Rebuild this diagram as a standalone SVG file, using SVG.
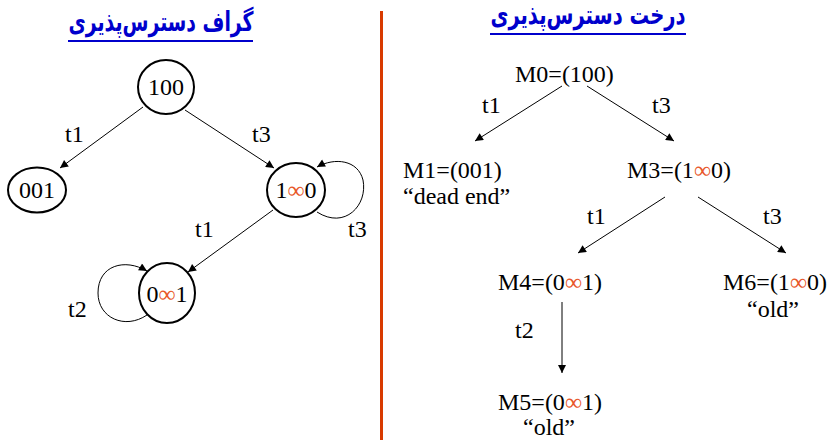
<svg xmlns="http://www.w3.org/2000/svg" width="828" height="440" viewBox="0 0 828 440" font-family="Liberation Serif, Times New Roman, serif">
<defs>
<marker id="ah" viewBox="0 0 10 10" refX="10" refY="5" markerWidth="10" markerHeight="8" markerUnits="userSpaceOnUse" orient="auto">
<path d="M0,0 L10,5 L0,10 z" fill="#000"/>
</marker>
<style>
.t{font-size:24px;fill:#000}
.c{text-anchor:middle}
.inf{fill:#E8582A}
.node{fill:#fff;stroke:#000;stroke-width:2}
.e{fill:none;stroke:#000;stroke-width:1;marker-end:url(#ah)}
.ttl{font-size:27px;font-weight:bold;fill:#0000CC;text-anchor:middle}
.ul{stroke:#0000CC;stroke-width:2}
</style>
</defs>
<rect width="828" height="440" fill="#fff"/>

<g id="titles" font-family="DejaVu Sans, sans-serif">
<text class="ttl" x="161" y="31" direction="rtl" textLength="185" lengthAdjust="spacingAndGlyphs">گراف دسترس‌پذیری</text>
<line class="ul" x1="68" y1="41" x2="253" y2="41"/>
<text class="ttl" x="588" y="24" direction="rtl" textLength="195" lengthAdjust="spacingAndGlyphs">درخت دسترس‌پذیری</text>
<line class="ul" x1="490" y1="34" x2="686" y2="34"/>
</g>

<g id="divider"><line x1="381.5" y1="11" x2="381.5" y2="440" stroke="#D83A00" stroke-width="3"/></g>

<g id="connectors">
<path class="e" d="M143,107 L60,168"/>
<path class="e" d="M185,110 L274,168"/>
<path class="e" d="M273,210 L188,272"/>
<path class="e" d="M317,212 C345,230 368,205 363,180 C358,160 335,157 317,167"/>
<path class="e" d="M147,315 C125,330 98,318 98,293 C98,265 125,258 147,271"/>
<path class="e" d="M562,86 L475,141"/>
<path class="e" d="M587,86 L674,141"/>
<path class="e" d="M665,197 L578,253"/>
<path class="e" d="M698,197 L786,253"/>
<path class="e" d="M562,302 L562,373"/>
</g>

<g id="edge-labels" font-family="Liberation Serif, serif">
<text class="t" x="65" y="142">t1</text>
<text class="t" x="252" y="142">t3</text>
<text class="t" x="195" y="237">t1</text>
<text class="t" x="348" y="237">t3</text>
<text class="t" x="68" y="317">t2</text>
<text class="t" x="482" y="113">t1</text>
<text class="t" x="652" y="113">t3</text>
<text class="t" x="587" y="224">t1</text>
<text class="t" x="763" y="224">t3</text>
<text class="t" x="515" y="338">t2</text>
</g>

<g id="g100"><ellipse class="node" cx="166" cy="87" rx="28" ry="27"/><text class="t c" x="166" y="95">100</text></g>
<g id="g001"><ellipse class="node" cx="37" cy="190" rx="29" ry="22.5"/><text class="t c" x="37" y="198">001</text></g>
<g id="g1inf0"><ellipse class="node" cx="296" cy="190" rx="29" ry="27"/><text class="t c" x="296" y="198">1<tspan class="inf">∞</tspan>0</text></g>
<g id="g0inf1"><ellipse class="node" cx="167" cy="293" rx="28" ry="30"/><text class="t c" x="167" y="302">0<tspan class="inf">∞</tspan>1</text></g>

<g id="M0"><text class="t" x="515" y="82">M0=(100)</text></g>
<g id="M1"><text class="t" x="403" y="178">M1=(001)</text><text class="t" x="403" y="204">“dead end”</text></g>
<g id="M3"><text class="t" x="627" y="178">M3=(1<tspan class="inf">∞</tspan>0)</text></g>
<g id="M4"><text class="t" x="498" y="290">M4=(0<tspan class="inf">∞</tspan>1)</text></g>
<g id="M6"><text class="t" x="723" y="290">M6=(1<tspan class="inf">∞</tspan>0)</text><text class="t c" x="773" y="317">“old”</text></g>
<g id="M5"><text class="t" x="498" y="410">M5=(0<tspan class="inf">∞</tspan>1)</text><text class="t c" x="549" y="435">“old”</text></g>
</svg>
